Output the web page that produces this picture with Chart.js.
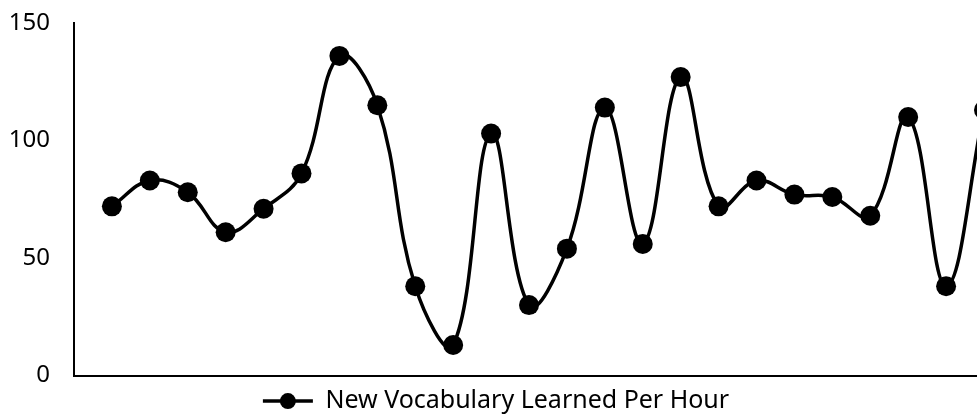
<!DOCTYPE html>
<html>
<head>
<meta charset="utf-8">
<script src="https://cdn.jsdelivr.net/npm/chart.js@4"></script>
<style>
  html, body { margin: 0; padding: 0; background: #fff; overflow: hidden; }
  .wrap { width: 1012px; height: 414px; position: relative; }
</style>
</head>
<body>
<div class="wrap"><canvas class="vocab-chart"></canvas></div>
<script>
const ctx = document.querySelector(".vocab-chart").getContext('2d');

// hour 0 has no reading, the series starts at hour 1
let hours = ["0", "1", "2", "3", "4", "5", "6", "7", "8", "9", "10", "11", "12",
  "13", "14", "15", "16", "17", "18", "19", "20", "21", "22", "23", "24"]
let vocabPerHour = [null, 72, 83, 78, 61, 71, 86, 136, 115, 38, 13, 103, 30,
  54, 114, 56, 127, 72, 83, 77, 76, 68, 110, 38, 113]
let yTicks = [0, 50, 100, 150]
let seriesName = "New Vocabulary Learned Per Hour"

Chart.defaults.font.family = "Noto Sans"
Chart.defaults.font.size = 24
Chart.defaults.color = "#000"

const data = {
  labels: hours,
  datasets: [{
    label: seriesName,
    data: vocabPerHour,
    borderColor: "#000",
    backgroundColor: "#000",
    borderWidth: 3.5,
    tension: 0.4,
    pointRadius: 10,
    pointHoverRadius: 10,
    pointBorderWidth: 0,
    pointBackgroundColor: "#000",
    clip: false
  }]
}

const config = {
  type: "line",
  data,
  options: {
    responsive: true,
    maintainAspectRatio: false,
    animation: false,
    layout: {
      // no extra room for the point markers
      autoPadding: false,
      padding: { top: 23, right: 28, left: 8, bottom: -10 }
    },
    plugins: {
      legend: {
        position: "bottom",
        labels: {
          usePointStyle: true,
          pointStyle: "line",
          pointStyleWidth: 50,
          font: { size: 25 },
          padding: 13,
          generateLabels: function (chart) {
            return [{
              text: seriesName,
              fillStyle: "#000",
              strokeStyle: "#000",
              lineWidth: 3.5,
              pointStyle: "line",
              datasetIndex: 0
            }]
          }
        }
      },
      tooltip: { enabled: false }
    },
    scales: {
      x: {
        offset: false,
        grid: { display: false, drawTicks: false },
        border: { display: true, color: "#000", width: 2 },
        ticks: { display: false }
      },
      y: {
        min: 0,
        max: 150,
        afterBuildTicks: function (scale) {
          scale.ticks = yTicks.map(v => ({ value: v }))
        },
        afterFit: function (scale) {
          scale.width = 66
          scale.paddingTop = 14
        },
        grid: { display: false, drawTicks: false },
        border: { display: true, color: "#000", width: 2 },
        ticks: { padding: 24 }
      }
    }
  },
  plugins: [{
    // draw the round marker on top of the legend line
    id: "legendDot",
    afterDraw: function (chart) {
      const item = chart.legend.legendHitBoxes[0]
      if (!item) return
      const c = chart.ctx
      const cx = item.left + chart.options.plugins.legend.labels.pointStyleWidth / 2
      const cy = item.top + item.height / 2
      c.save()
      c.fillStyle = "#000"
      c.beginPath()
      c.arc(cx, cy, 8, 0, Math.PI * 2)
      c.fill()
      c.restore()
    }
  }]
}

const myChart = new Chart(ctx, config)
</script>
</body>
</html>
